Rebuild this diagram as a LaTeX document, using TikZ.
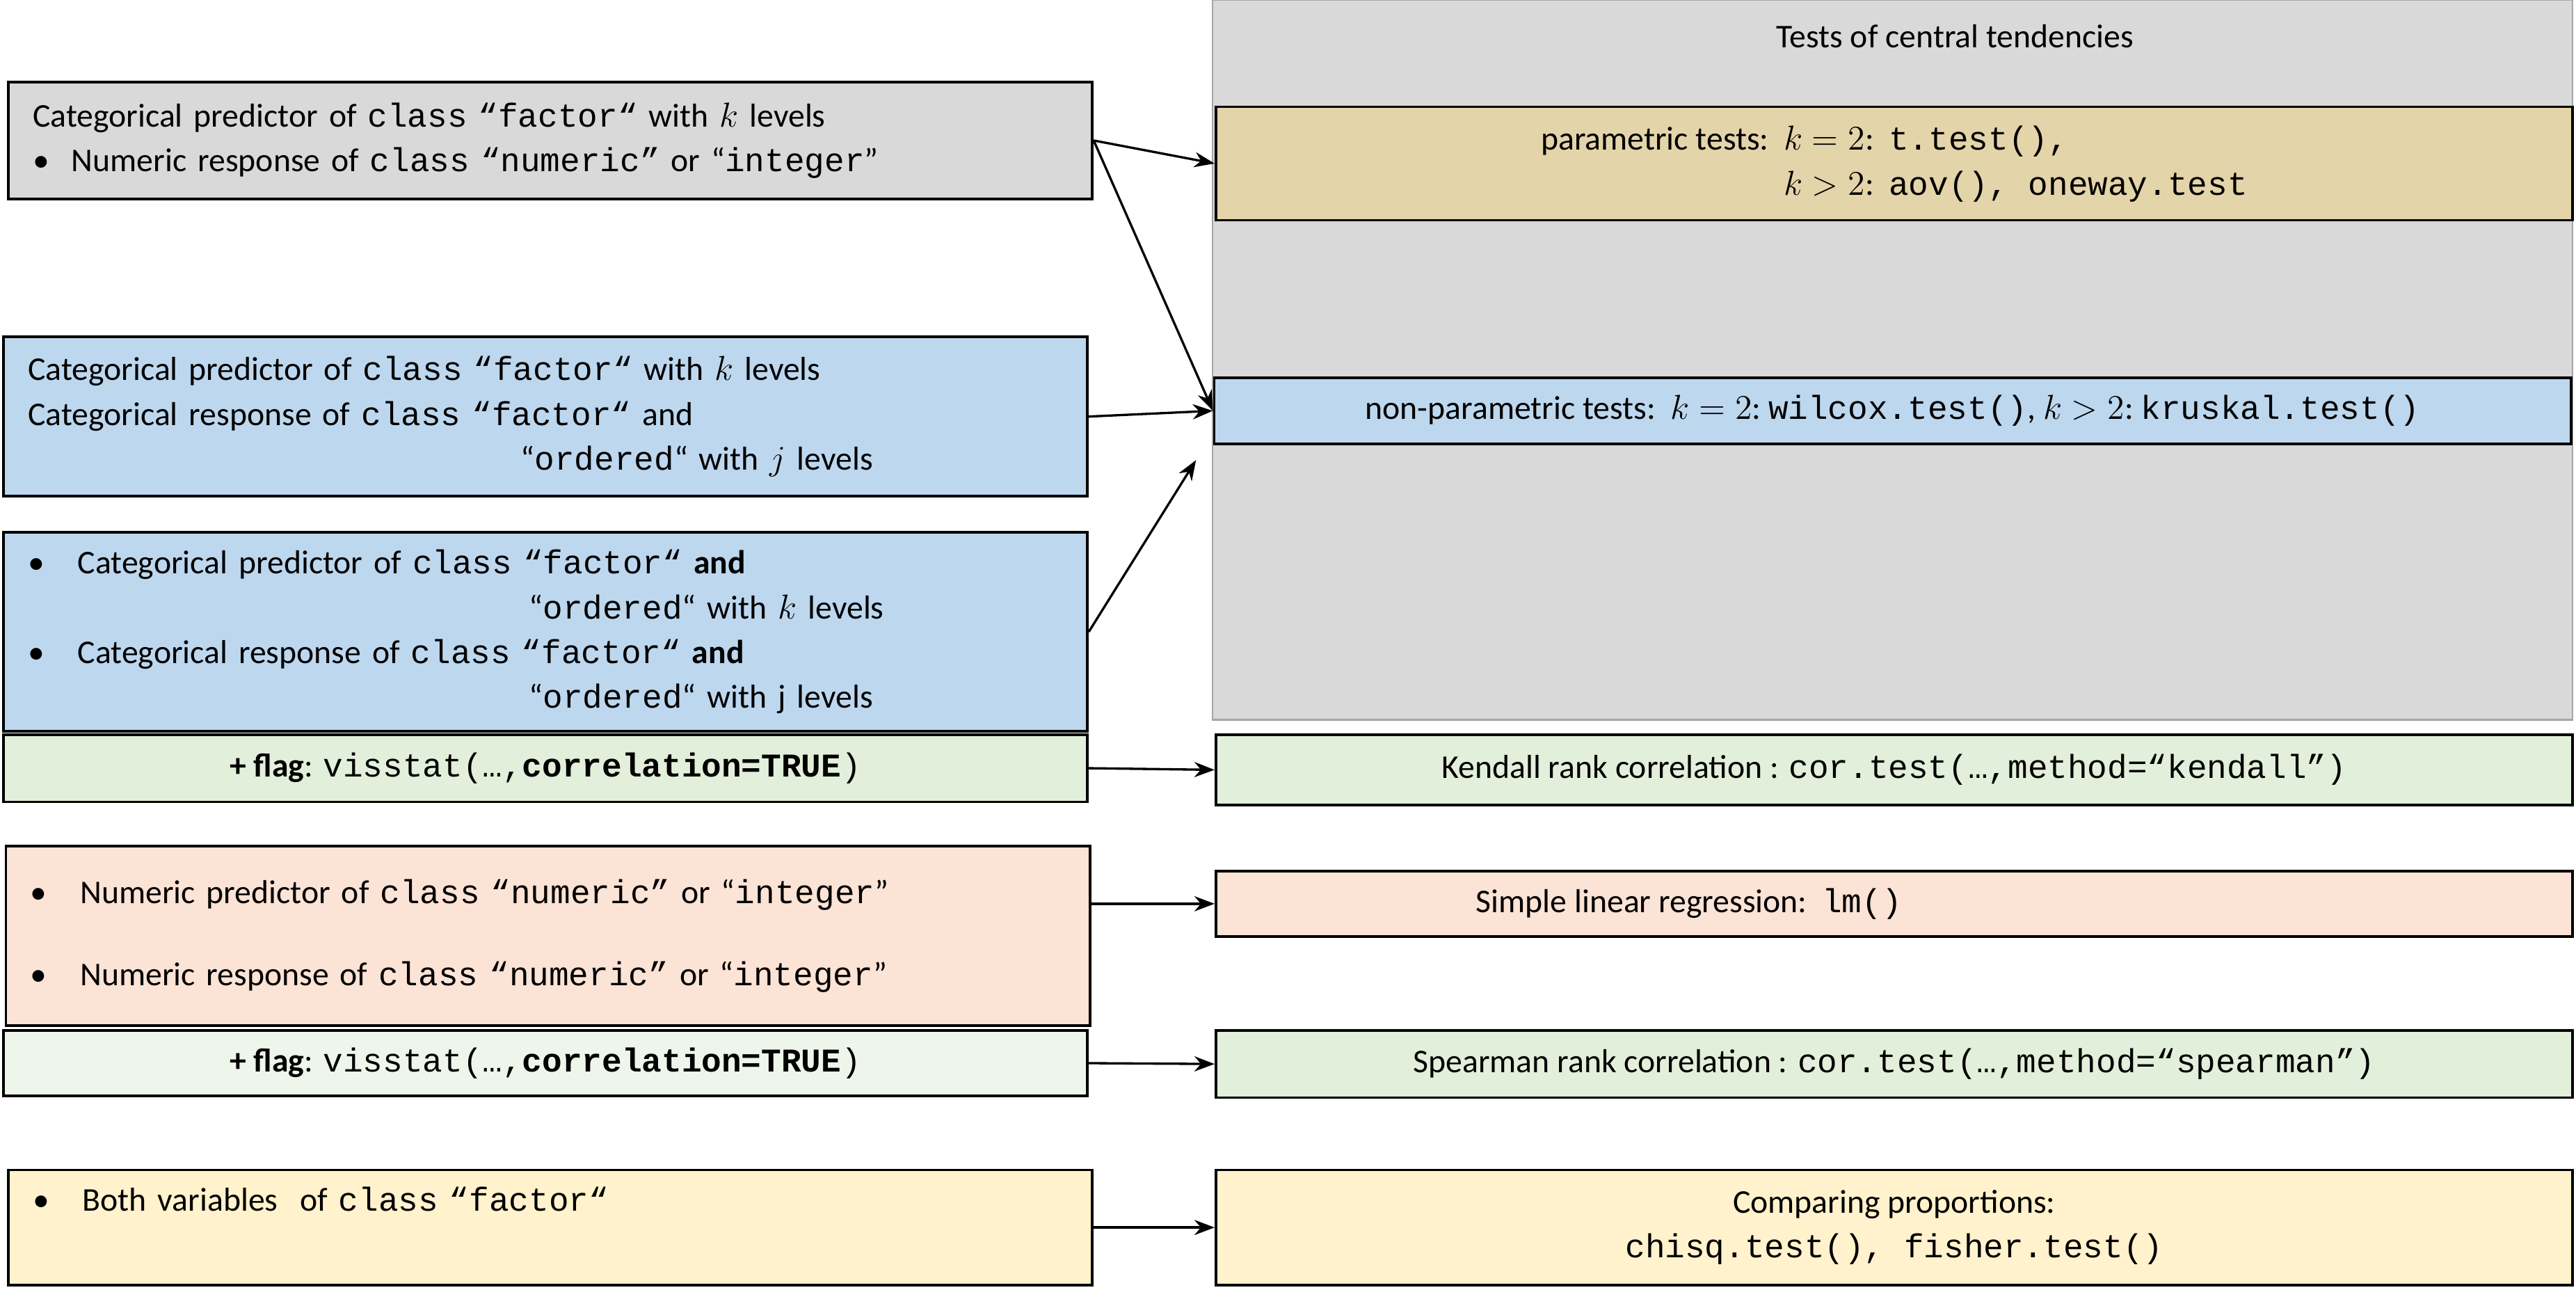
\documentclass[tikz,border=0pt]{standalone}
\usepackage{fontspec}
\setmainfont{Carlito}
\setmonofont{LiberationMono}[Extension=.ttf, UprightFont=*-Regular, BoldFont=*-Bold]
\usetikzlibrary{arrows.meta}
\definecolor{grayfill}{HTML}{D9D9D9}
\definecolor{tanfill}{HTML}{E4D4A9}
\definecolor{bluefill}{HTML}{BDD7EE}
\definecolor{greenfill}{HTML}{E2EFDA}
\definecolor{lightgreen}{HTML}{EEF5EA}
\definecolor{peachfill}{HTML}{FBE3D6}
\definecolor{yellowfill}{HTML}{FFF2CC}
\begin{document}
\begin{tikzpicture}[
        x=0.02cm, y=-0.02cm,
        font=\fontsize{11.5}{15.5}\selectfont,
        box/.style={draw, line width=0.9pt, inner sep=0pt}, % Рамки
        lbox/.style={box, minimum width=13.2cm, text width=12.6cm, align=left},
        rbox/.style={box, minimum width=16.52cm, align=center},
        conn/.style={-{Stealth[length=7pt]}, line width=0.8pt},
    ]
    \useasboundingbox (0,0) rectangle (1568,785);

    % правая колонка
    \node[box, fill=grayfill, draw=gray!70, line width=0.6pt, minimum width=16.56cm, minimum height=8.76cm] (tests) at (1152,219) {};
    \node (title) at (1190,22) {Tests of central tendencies};
    \node[rbox, fill=tanfill, minimum height=1.38cm] (param) at (1153,99.5)
        {\begin{tabular}{@{}r@{\ \ }l@{}}parametric tests:\ \ $k=2$: & \texttt{t.test(),}\\ $k>2$: & \texttt{aov(), oneway.test}\end{tabular}};
    \node[rbox, fill=bluefill, minimum height=0.8cm] (nonparam) at (1152,250)
        {non-parametric tests:\ \ $k=2$:\ \texttt{wilcox.test()}, $k>2$:\ \texttt{kruskal.test()}};
    \node[rbox, fill=greenfill, minimum height=0.86cm] (kendall) at (1153,468.5)
        {Kendall rank correlation : \texttt{cor.test(…,method=“kendall”)}};
    \node[rbox, fill=peachfill, minimum height=0.8cm] (linreg) at (1153,550)
        {\hspace{-5cm}Simple linear regression:\ \ \texttt{lm()}};
    \node[rbox, fill=greenfill, minimum height=0.82cm] (spearman) at (1153,647.5)
        {Spearman rank correlation : \texttt{cor.test(…,method=“spearman”)}};
    \node[rbox, fill=yellowfill, minimum height=1.4cm] (prop) at (1153,747)
        {Comparing proportions:\\ \texttt{chisq.test(), fisher.test()}};

    % левая колонка
    \node[lbox, fill=grayfill, minimum height=1.42cm] (catnum) at (335,85.5)
        {Categorical predictor of \texttt{class “factor“} with $k$ levels\\
         \textbullet\ \ Numeric response of \texttt{class “numeric”} or “\texttt{integer}”};
    \node[lbox, fill=bluefill, minimum height=1.94cm] (catcat) at (332,253.5)
        {Categorical predictor of \texttt{class “factor“} with $k$ levels\\
         Categorical response of \texttt{class “factor“} and\\
         \hspace*{6cm}“\texttt{ordered}“ with $j$ levels};
    \node[lbox, fill=bluefill, minimum height=2.42cm] (ordord) at (332,384.5)
        {\textbullet\ \ \ Categorical predictor\ of \texttt{class “factor“} \textbf{and}\\
         \hspace*{6.1cm}“\texttt{ordered}“ with $k$ levels\\
         \textbullet\ \ \ Categorical response of \texttt{class “factor“} \textbf{and}\\
         \hspace*{6.1cm}“\texttt{ordered}“ with j levels};
    \node[box, fill=greenfill, minimum width=13.2cm, minimum height=0.82cm] (flagA) at (332,467.5)
        {\textbf{+ flag}: \texttt{visstat(…,\textbf{correlation=TRUE})}};
    \node[lbox, fill=peachfill, minimum height=2.18cm] (numnum) at (333.5,569.5)
        {\textbullet\ \ \ Numeric\ predictor of \texttt{class “numeric”} or “\texttt{integer}”\\[0.45cm]
         \textbullet\ \ \ Numeric response of \texttt{class “numeric”} or “\texttt{integer}”};
    \node[box, fill=lightgreen, minimum width=13.2cm, minimum height=0.8cm] (flagB) at (332,647)
        {\textbf{+ flag}: \texttt{visstat(…,\textbf{correlation=TRUE})}};
    \node[lbox, fill=yellowfill, minimum height=1.4cm, text depth=0.7cm] (facfac) at (335,747)
        {\textbullet\ \ \ Both variables\ \ of \texttt{class “factor“}};

    \coordinate (nptip) at (728,280);

    % стрелки
    \draw[conn] (catnum.east) -- (param.west);
    \draw[conn] (catnum.east) -- (nonparam.west);
    \draw[conn] (catcat.east) -- (nonparam.west);
    \draw[conn] (ordord.east) -- (nptip);
    \draw[conn] (flagA.east) -- (kendall.west);
    \draw[conn] (numnum.east |- linreg.west) -- (linreg.west);
    \draw[conn] (flagB.east) -- (spearman.west);
    \draw[conn] (facfac.east) -- (prop.west);
\end{tikzpicture}
\end{document}
